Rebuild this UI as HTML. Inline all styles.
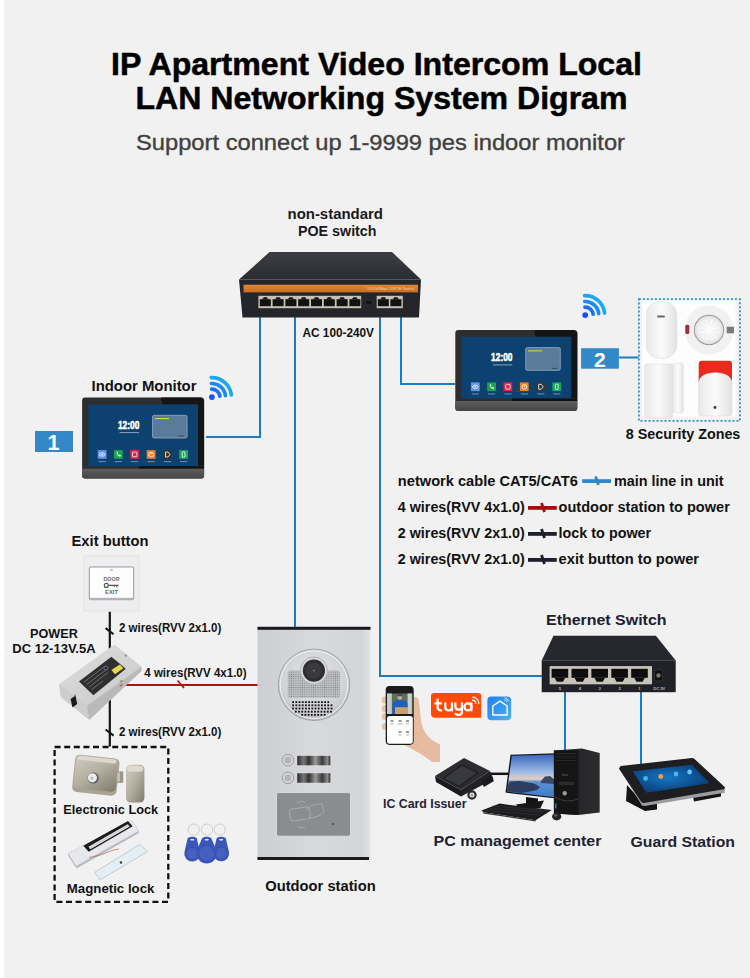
<!DOCTYPE html>
<html><head><meta charset="utf-8"><style>
html,body{margin:0;padding:0;background:#f1f1f1;width:750px;height:978px;overflow:hidden}
svg{display:block;font-family:"Liberation Sans", sans-serif}
</style></head><body>
<svg width="750" height="978" viewBox="0 0 750 978">
<rect x="0" y="0" width="750" height="978" fill="#f1f1f1"/>
<rect x="0" y="0" width="4" height="978" fill="#ffffff"/>
<text x="111" y="75.3" font-size="31.5" font-weight="bold" fill="#000" textLength="531" lengthAdjust="spacingAndGlyphs" stroke="#000" stroke-width="0.5">IP Apartment Video Intercom Local</text>
<text x="135.5" y="109.3" font-size="31.5" font-weight="bold" fill="#000" textLength="492" lengthAdjust="spacingAndGlyphs" stroke="#000" stroke-width="0.5">LAN Networking System Digram</text>
<text x="136" y="149.6" font-size="22" font-weight="normal" fill="#404040" textLength="489" lengthAdjust="spacingAndGlyphs" stroke="#404040" stroke-width="0.35">Support connect up 1-9999 pes indoor monitor</text>
<path d="M260,317 V437 H206 M295,317 V627 M380,317 V676 H542 M401,317 V384 H455 M565,692 V750 M641,692 V764 M619,357.5 H638.5" fill="none" stroke="#1d7cc1" stroke-width="2"/>
<text x="287.5" y="219.1" font-size="14.5" font-weight="bold" fill="#1a1a1a" textLength="95.5" lengthAdjust="spacingAndGlyphs" >non-standard</text>
<text x="298" y="235.9" font-size="14.5" font-weight="bold" fill="#1a1a1a" textLength="78.5" lengthAdjust="spacingAndGlyphs" >POE switch</text>
<defs><linearGradient id="swtop" x1="0" y1="0" x2="0" y2="1"><stop offset="0" stop-color="#3c3e44"/><stop offset="1" stop-color="#2a2c31"/></linearGradient><linearGradient id="orng" x1="0" y1="0" x2="0" y2="1"><stop offset="0" stop-color="#e08834"/><stop offset="1" stop-color="#c96c22"/></linearGradient></defs>
<polygon points="269.5,252 392,252 421,279.5 239,279.5" fill="url(#swtop)"/>
<polygon points="239,279.5 421,279.5 419,317.5 242.5,317.5" fill="#24262b"/>
<rect x="243.5" y="284.7" width="174.5" height="7.7" fill="url(#orng)"/>
<rect x="258.4" y="295.8" width="102.8" height="12.4" fill="#c8c2b4"/>
<rect x="259.80" y="299.2" width="11" height="7" fill="#121212"/>
<polygon points="262.30,299.3 263.80,297.2 266.80,297.2 268.30,299.3" fill="#121212"/>
<rect x="272.60" y="299.2" width="11" height="7" fill="#121212"/>
<polygon points="275.10,299.3 276.60,297.2 279.60,297.2 281.10,299.3" fill="#121212"/>
<rect x="285.40" y="299.2" width="11" height="7" fill="#121212"/>
<polygon points="287.90,299.3 289.40,297.2 292.40,297.2 293.90,299.3" fill="#121212"/>
<rect x="298.20" y="299.2" width="11" height="7" fill="#121212"/>
<polygon points="300.70,299.3 302.20,297.2 305.20,297.2 306.70,299.3" fill="#121212"/>
<rect x="311.00" y="299.2" width="11" height="7" fill="#121212"/>
<polygon points="313.50,299.3 315.00,297.2 318.00,297.2 319.50,299.3" fill="#121212"/>
<rect x="323.80" y="299.2" width="11" height="7" fill="#121212"/>
<polygon points="326.30,299.3 327.80,297.2 330.80,297.2 332.30,299.3" fill="#121212"/>
<rect x="336.60" y="299.2" width="11" height="7" fill="#121212"/>
<polygon points="339.10,299.3 340.60,297.2 343.60,297.2 345.10,299.3" fill="#121212"/>
<rect x="349.40" y="299.2" width="11" height="7" fill="#121212"/>
<polygon points="351.90,299.3 353.40,297.2 356.40,297.2 357.90,299.3" fill="#121212"/>
<rect x="376.7" y="295.8" width="26.1" height="12.4" fill="#c8c2b4"/>
<rect x="377.80" y="299.2" width="11" height="7" fill="#121212"/>
<polygon points="380.30,299.3 381.80,297.2 384.80,297.2 386.30,299.3" fill="#121212"/>
<rect x="390.40" y="299.2" width="11" height="7" fill="#121212"/>
<polygon points="392.90,299.3 394.40,297.2 397.40,297.2 398.90,299.3" fill="#121212"/>
<rect x="366.5" y="301" width="5" height="3" fill="#111"/>
<text x="367" y="290.3" font-size="3.8" fill="#f3d2a8" textLength="47" lengthAdjust="spacingAndGlyphs">10/100Mbps 10POE Switch</text>
<text x="302.5" y="336.8" font-size="13" font-weight="bold" fill="#111" textLength="71.5" lengthAdjust="spacingAndGlyphs" >AC 100-240V</text>
<defs><g id="mon"><defs><linearGradient id="bez" x1="0" y1="0" x2="0" y2="1"><stop offset="0" stop-color="#5e5e5e"/><stop offset="1" stop-color="#454545"/></linearGradient></defs><rect x="0" y="0" width="122" height="81" rx="3" fill="#2e2e2e"/><polygon points="79,0 119,0 122,3 122,68 116,68 116,6.9 80,6.9" fill="#151515"/><rect x="6.2" y="6.9" width="109.7" height="61.7" fill="#0d416f"/><polygon points="57,68.6 122,68.6 122,71.2 57,71.2" fill="#111"/><path d="M0,71.2 H122 V78 Q122,81 119,81 H3 Q0,81 0,78 Z" fill="url(#bez)"/><text x="35.8" y="31.4" font-size="10.6" font-weight="bold" fill="#fff" stroke="#fff" stroke-width="0.55" textLength="21.4" lengthAdjust="spacingAndGlyphs">12:00</text><rect x="37.5" y="34.5" width="19.5" height="1" fill="#8aa2ba"/><rect x="70.4" y="17.7" width="34.6" height="22.7" rx="1.5" fill="#5b7b9a" stroke="#90abc4" stroke-width="0.8"/><rect x="72.8" y="20.4" width="14" height="1.1" fill="#d9d34a"/><rect x="96.5" y="38" width="5.5" height="0.9" fill="#33475c"/><rect x="15.6" y="52.5" width="8.8" height="8.7" fill="#6393ea"/><ellipse cx="20.0" cy="56.9" rx="2.8" ry="1.7" fill="none" stroke="#fff" stroke-width="0.8"/><circle cx="20.0" cy="56.9" r="0.8" fill="#fff"/><rect x="16.4" y="63.6" width="7.2" height="0.9" fill="#7f98b2"/><rect x="31.9" y="52.5" width="8.8" height="8.7" fill="#18a550"/><path d="M34.5,54.6 q0.2,3.5 3.6,4.6 l0.8,-1.2 -1.3,-1 -0.7,0.6 q-1,-0.6 -1.4,-1.6 l0.6,-0.7 -0.9,-1.3 z" fill="#fff"/><rect x="32.699999999999996" y="63.6" width="7.2" height="0.9" fill="#7f98b2"/><rect x="48.2" y="52.5" width="8.8" height="8.7" fill="#e8204a"/><rect x="50.400000000000006" y="54.4" width="4.4" height="4.8" rx="0.8" fill="none" stroke="#fff" stroke-width="0.8"/><rect x="49.0" y="63.6" width="7.2" height="0.9" fill="#7f98b2"/><rect x="64.6" y="52.5" width="8.8" height="8.7" fill="#f07d28"/><circle cx="69.0" cy="56.9" r="2.4" fill="none" stroke="#fff" stroke-width="0.8"/><circle cx="69.0" cy="56.3" r="0.7" fill="#fff"/><rect x="65.39999999999999" y="63.6" width="7.2" height="0.9" fill="#7f98b2"/><rect x="81.1" y="52.5" width="8.8" height="8.7" fill="#353535"/><path d="M83.39999999999999,54.4 h2.5 l2,2.5 -2,2.5 h-2.5 z" fill="none" stroke="#fff" stroke-width="0.8"/><rect x="81.89999999999999" y="63.6" width="7.2" height="0.9" fill="#7f98b2"/><rect x="97.1" y="52.5" width="8.8" height="8.7" fill="#1aa85a"/><rect x="100.1" y="54" width="2.8" height="5.8" rx="1.4" fill="none" stroke="#fff" stroke-width="0.8"/><rect x="97.89999999999999" y="63.6" width="7.2" height="0.9" fill="#7f98b2"/></g></defs>
<use href="#mon" x="82.1" y="397.6"/>
<use href="#mon" x="455.3" y="329.9"/>
<circle cx="211.9" cy="397.1" r="2.9" fill="#1a4ff5"/>
<path d="M211.62,389.10 A8,8 0 0 1 219.86,396.26" fill="none" stroke="#1d6ef8" stroke-width="3.6" stroke-linecap="round"/>
<path d="M211.43,383.51 A13.6,13.6 0 0 1 225.43,395.68" fill="none" stroke="#1a8af5" stroke-width="3.6" stroke-linecap="round"/>
<path d="M211.22,377.61 A19.5,19.5 0 0 1 231.29,395.06" fill="none" stroke="#19a8f5" stroke-width="3.6" stroke-linecap="round"/>
<circle cx="585.2" cy="315.1" r="2.9" fill="#1a4ff5"/>
<path d="M584.92,307.10 A8,8 0 0 1 593.16,314.26" fill="none" stroke="#1d6ef8" stroke-width="3.6" stroke-linecap="round"/>
<path d="M584.73,301.51 A13.6,13.6 0 0 1 598.73,313.68" fill="none" stroke="#1a8af5" stroke-width="3.6" stroke-linecap="round"/>
<path d="M584.52,295.61 A19.5,19.5 0 0 1 604.59,313.06" fill="none" stroke="#19a8f5" stroke-width="3.6" stroke-linecap="round"/>
<rect x="35" y="431" width="38" height="21" fill="#3389c8"/>
<text x="47.5" y="450" font-size="21.5" font-weight="bold" fill="#fff" >1</text>
<rect x="581.1" y="348.2" width="37.8" height="20.5" fill="#3389c8"/>
<text x="594" y="367.1" font-size="21" font-weight="bold" fill="#fff" >2</text>
<text x="91.5" y="391.3" font-size="14.5" font-weight="bold" fill="#111" textLength="105" lengthAdjust="spacingAndGlyphs" >Indoor Monitor</text>
<rect x="642" y="300.6" width="93.6" height="117.6" fill="#fdfdfd"/>
<rect x="638.9" y="299.2" width="101" height="121.6" fill="none" stroke="#2d8fd5" stroke-width="1.8" stroke-dasharray="2,2"/>
<defs><linearGradient id="wht" x1="0" y1="0" x2="1" y2="0"><stop offset="0" stop-color="#e9e9ea"/><stop offset="0.5" stop-color="#fbfbfb"/><stop offset="1" stop-color="#e2e2e4"/></linearGradient><radialGradient id="smk" cx="0.5" cy="0.5" r="0.5"><stop offset="0" stop-color="#ffffff"/><stop offset="0.7" stop-color="#f4f4f4"/><stop offset="1" stop-color="#dedede"/></radialGradient></defs>
<rect x="646.3" y="301.8" width="30.5" height="56.4" rx="13" fill="url(#wht)" stroke="#dcdcdc" stroke-width="0.6"/>
<rect x="657" y="315.5" width="8" height="2" rx="1" fill="#666"/>
<circle cx="709" cy="330" r="24.5" fill="#f1f1f1"/>
<circle cx="709" cy="330" r="15.2" fill="#9a9a9a"/>
<circle cx="709" cy="330" r="14.2" fill="url(#smk)"/>
<g stroke="#e2e2e2" stroke-width="0.6"><path d="M709,330 L720.0,330.0"/><path d="M709,330 L718.5,335.5"/><path d="M709,330 L714.5,339.5"/><path d="M709,330 L709.0,341.0"/><path d="M709,330 L703.5,339.5"/><path d="M709,330 L699.5,335.5"/><path d="M709,330 L698.0,330.0"/><path d="M709,330 L699.5,324.5"/><path d="M709,330 L703.5,320.5"/><path d="M709,330 L709.0,319.0"/><path d="M709,330 L714.5,320.5"/><path d="M709,330 L718.5,324.5"/></g>
<circle cx="709" cy="330" r="4" fill="#fafafa"/>
<rect x="685.3" y="324.7" width="4" height="9.3" rx="1.5" fill="#a0303a"/>
<rect x="726.7" y="326.7" width="7.3" height="6.6" fill="#7a7a7a"/>
<rect x="644.7" y="364" width="28" height="54" rx="2" fill="url(#wht)" stroke="#dedede" stroke-width="0.6"/>
<rect x="672.7" y="363.3" width="10.6" height="49.4" rx="2" fill="url(#wht)" stroke="#dedede" stroke-width="0.6"/>
<path d="M698.7,382 V364 Q698.7,360.7 702,360.7 H728.7 Q732,360.7 732,364 V382 Q730,373 715.3,372.7 Q700.5,373 698.7,382 Z" fill="#ea2a1c"/>
<path d="M698.7,382 Q699.5,376.5 704,375.5 L726.5,375.5 Q731,376.5 732,382 L732,380 Q730,373 715.3,372.7 Q700.5,373 698.7,380 Z" fill="#b0202a"/>
<path d="M698.7,382 Q700.5,373 715.3,372.7 Q730,373 732,382 V413 Q732,416 729,416 H701.7 Q698.7,416 698.7,413 Z" fill="url(#wht)" stroke="#dadada" stroke-width="0.6"/>
<circle cx="715" cy="407.5" r="1.4" fill="#333"/>
<text x="625.8" y="439" font-size="14.5" font-weight="bold" fill="#111" textLength="114.5" lengthAdjust="spacingAndGlyphs" >8 Security Zones</text>
<text x="397.8" y="486" font-size="14.5" font-weight="bold" fill="#111" textLength="180" lengthAdjust="spacingAndGlyphs" >network cable CAT5/CAT6</text>
<text x="614" y="486" font-size="14.5" font-weight="bold" fill="#111" textLength="109.5" lengthAdjust="spacingAndGlyphs" >main line in unit</text>
<text x="397.8" y="512" font-size="14.5" font-weight="bold" fill="#111" textLength="127" lengthAdjust="spacingAndGlyphs" >4 wires(RVV 4x1.0)</text>
<text x="558.6" y="512" font-size="14.5" font-weight="bold" fill="#111" textLength="171.2" lengthAdjust="spacingAndGlyphs" >outdoor station to power</text>
<rect x="528" y="506" width="28.8" height="3.8" fill="#a80c10"/>
<path d="M541.5,503 L544.5,512" stroke="#a80c10" stroke-width="2.8"/>
<text x="397.8" y="538" font-size="14.5" font-weight="bold" fill="#111" textLength="127" lengthAdjust="spacingAndGlyphs" >2 wires(RVV 2x1.0)</text>
<text x="558.6" y="538" font-size="14.5" font-weight="bold" fill="#111" textLength="92.6" lengthAdjust="spacingAndGlyphs" >lock to power</text>
<rect x="528" y="532" width="28.8" height="3.8" fill="#1e1f2c"/>
<path d="M541.5,529 L544.5,538" stroke="#1e1f2c" stroke-width="2.8"/>
<text x="397.8" y="564" font-size="14.5" font-weight="bold" fill="#111" textLength="127" lengthAdjust="spacingAndGlyphs" >2 wires(RVV 2x1.0)</text>
<text x="558.6" y="564" font-size="14.5" font-weight="bold" fill="#111" textLength="140.5" lengthAdjust="spacingAndGlyphs" >exit button to power</text>
<rect x="528" y="558" width="28.8" height="3.8" fill="#1e1f2c"/>
<path d="M541.5,555 L544.5,564" stroke="#1e1f2c" stroke-width="2.8"/>
<rect x="582.2" y="479.2" width="28.8" height="3.8" fill="#2f88ca"/>
<path d="M595.5,476.5 L598.5,485" stroke="#2f88ca" stroke-width="2.8"/>
<text x="71.5" y="545.9" font-size="14" font-weight="bold" fill="#111" textLength="77" lengthAdjust="spacingAndGlyphs" >Exit button</text>
<rect x="83.3" y="555.2" width="56.6" height="56.6" fill="#e8e8eb"/>
<rect x="85" y="557" width="53" height="53" fill="#eeeef0"/>
<rect x="89.3" y="567" width="44.4" height="32.7" rx="1" fill="#fdfdfd" stroke="#8c8c90" stroke-width="0.9"/>
<rect x="89.8" y="597.8" width="43.5" height="1.8" fill="#b5b5b8"/>
<rect x="109.8" y="569.5" width="3" height="0.9" fill="#4aa36a"/>
<text x="111.5" y="580.6" font-size="5" font-weight="bold" fill="#6a6a6a" text-anchor="middle" textLength="16" lengthAdjust="spacingAndGlyphs">DOOR</text>
<circle cx="106.3" cy="585.4" r="2" fill="none" stroke="#555" stroke-width="1.1"/>
<path d="M108.3,585.4 H118.5 M116.8,585.4 V587.5 M114.2,585.4 V587" stroke="#555" stroke-width="1.1" fill="none"/>
<text x="111.5" y="594.2" font-size="5" font-weight="bold" fill="#6a6a6a" text-anchor="middle" textLength="13" lengthAdjust="spacingAndGlyphs">EXIT</text>
<path d="M109.8,611.8 V746.5" stroke="#141414" stroke-width="2.2"/>
<path d="M105.6,628.1 L113.6,634.2 M105.6,729.5 L113.6,735.6" stroke="#141414" stroke-width="2"/>
<text x="119" y="631.6" font-size="12" font-weight="bold" fill="#111" textLength="102.3" lengthAdjust="spacingAndGlyphs" >2 wires(RVV 2x1.0)</text>
<text x="119" y="736.2" font-size="12" font-weight="bold" fill="#111" textLength="102.3" lengthAdjust="spacingAndGlyphs" >2 wires(RVV 2x1.0)</text>
<text x="30" y="637.8" font-size="13" font-weight="bold" fill="#111" textLength="47.8" lengthAdjust="spacingAndGlyphs" >POWER</text>
<text x="12.3" y="652.9" font-size="13.5" font-weight="bold" fill="#111" textLength="83.3" lengthAdjust="spacingAndGlyphs" >DC 12-13V.5A</text>
<path d="M122,685 H258" stroke="#b01010" stroke-width="2"/>
<path d="M177.5,680.5 L184,688" stroke="#b01010" stroke-width="1.6"/>
<text x="144.3" y="677.2" font-size="12" font-weight="bold" fill="#111" textLength="102.3" lengthAdjust="spacingAndGlyphs" >4 wires(RVV 4x1.0)</text>
<defs><linearGradient id="psu" x1="0" y1="0" x2="1" y2="1"><stop offset="0" stop-color="#dedede"/><stop offset="1" stop-color="#c9c9c9"/></linearGradient></defs>
<polygon points="59.2,684.4 114.4,644.8 141.4,667 141.4,671 89.2,719.8 61,697" fill="#c4c4c4"/>
<polygon points="59.2,684.4 114.4,644.8 141.4,667 87,706" fill="url(#psu)"/>
<polygon points="87,706 141.4,667 141.4,671 89.2,719.8" fill="#b9b9b9"/>
<polygon points="59.2,684.4 87,706 89.2,719.8 61,697" fill="#cdcdcd"/>
<polygon points="79,681.4 111.4,656.8 125.8,668.8 93.4,695.2" fill="#2f2f2f"/>
<g stroke="#8a8a8a" stroke-width="0.7"><path d="M84,682 L104,667 M86.5,684.5 L106,670 M89,687 L108,672.5 M91.5,689.5 L103,681"/></g>
<polygon points="111.4,670 119.8,664.6 123.4,668.2 115,674.2" fill="#e6d84c"/>
<circle cx="106" cy="668" r="2" fill="none" stroke="#7b7fb0" stroke-width="0.7"/>
<polygon points="70.6,699 75.5,695.5 77.2,704 72.5,707.5" fill="#1a1a1a"/>
<circle cx="125.8" cy="655.5" r="1.3" fill="#999"/>
<circle cx="75.2" cy="695.5" r="0.9" fill="#777"/>
<rect x="119.5" y="680.5" width="3" height="1.5" fill="#5aa86a" transform="rotate(-36 121 681)"/>
<rect x="119.5" y="684.5" width="3" height="1.5" fill="#d05a4a" transform="rotate(-36 121 685)"/>
<rect x="54.6" y="747" width="113.7" height="154.8" fill="none" stroke="#111" stroke-width="2.3" stroke-dasharray="6,3.6"/>
<defs><linearGradient id="steel" x1="0" y1="0" x2="1" y2="1"><stop offset="0" stop-color="#d2cdc2"/><stop offset="0.5" stop-color="#b3ad9f"/><stop offset="1" stop-color="#7e796d"/></linearGradient><linearGradient id="alu" x1="0" y1="0" x2="0" y2="1"><stop offset="0" stop-color="#f4f4f6"/><stop offset="1" stop-color="#c9cbd0"/></linearGradient></defs>
<g transform="rotate(6 96 775)"><rect x="73.6" y="756.5" width="44.6" height="37.5" rx="5" fill="#a9a396"/><rect x="74.5" y="757.2" width="42.5" height="33" rx="4.5" fill="url(#steel)"/><rect x="76" y="757.6" width="39" height="4" rx="2" fill="#ddd8cc"/></g>
<rect x="115.4" y="771.4" width="7.8" height="11.4" fill="#9b968a"/>
<rect x="117" y="772.5" width="3" height="9" fill="#c3beb2"/>
<circle cx="93.2" cy="778" r="5.6" fill="#5a5a5a"/>
<circle cx="92.4" cy="777.8" r="4.6" fill="#ececee"/>
<circle cx="91.8" cy="778.2" r="1.6" fill="#bfbfc3"/>
<rect x="126" y="764.8" width="18.4" height="37.8" rx="4.5" fill="url(#steel)"/>
<rect x="127.2" y="765.8" width="16" height="6" rx="3" fill="#dedad0"/>
<text x="63.3" y="813.7" font-size="13" font-weight="bold" fill="#111" textLength="94.9" lengthAdjust="spacingAndGlyphs" >Electronic Lock</text>
<polygon points="68,853.7 132,820.3 138.7,831 76,866.3" fill="#e6e8ec" stroke="#c2c4c8" stroke-width="0.6"/>
<polygon points="68,853.7 76,866.3 76.5,868.5 68.5,856" fill="#a9abb0"/>
<polygon points="76,866.3 138.7,831 139,833 76.5,868.5" fill="#b9bbc0"/>
<polygon points="83.3,845.7 128,821 132.7,826.3 88.7,851.7" fill="#1d1d1d"/>
<polygon points="88.5,846.8 127.8,824.2 129.6,826.6 90.3,849.3" fill="#e9e9ea"/>
<path d="M89.4,848 L128.7,825.4" stroke="#9a9a9c" stroke-width="0.5"/>
<path d="M89,857.5 Q100,856 108,852 Q114,849.5 119,849" fill="none" stroke="#b24a3a" stroke-width="0.6"/>
<polygon points="94.7,872.3 140,844.3 147.3,851.7 100,880" fill="#e4eef3" stroke="#aebdc7" stroke-width="0.7"/>
<circle cx="121" cy="862.5" r="1.3" fill="#444"/>
<text x="66.8" y="892.8" font-size="13" font-weight="bold" fill="#111" textLength="87.6" lengthAdjust="spacingAndGlyphs" >Magnetic lock</text>
<circle cx="193.8" cy="829.6" r="5.6" fill="none" stroke="#b5b5b8" stroke-width="0.6"/>
<circle cx="207" cy="829.6" r="5.6" fill="none" stroke="#b5b5b8" stroke-width="0.6"/>
<circle cx="219.8" cy="829.6" r="5.6" fill="none" stroke="#b5b5b8" stroke-width="0.6"/>
<path d="M187.7,838.1 Q192.2,835.4 196.7,838.1 L199.863,851.625 A7.9,7.9 0 1 1 184.53699999999998,851.625 Z" fill="#3a56b8"/>
<circle cx="192.2" cy="853.6" r="6.162000000000001" fill="#4561c0" stroke="#304aa8" stroke-width="0.6"/>
<rect x="190.2" y="838.9" width="4" height="1.6" rx="0.8" fill="#e2e8f8"/>
<path d="M216.7,838.1 Q221.2,835.4 225.7,838.1 L228.863,851.425 A7.9,7.9 0 1 1 213.53699999999998,851.425 Z" fill="#3a56b8"/>
<circle cx="221.2" cy="853.4" r="6.162000000000001" fill="#4561c0" stroke="#304aa8" stroke-width="0.6"/>
<rect x="219.2" y="838.9" width="4" height="1.6" rx="0.8" fill="#e2e8f8"/>
<path d="M202.2,838.1 Q206.7,835.4 211.2,838.1 L216.594,850.85 A10.2,10.2 0 1 1 196.80599999999998,850.85 Z" fill="#3a56b8"/>
<circle cx="206.7" cy="853.4" r="7.9559999999999995" fill="#4561c0" stroke="#304aa8" stroke-width="0.6"/>
<rect x="204.7" y="838.9" width="4" height="1.6" rx="0.8" fill="#e2e8f8"/>
<defs><linearGradient id="panel" x1="0" y1="0" x2="1" y2="0"><stop offset="0" stop-color="#cdced2"/><stop offset="0.5" stop-color="#d8d9dc"/><stop offset="0.92" stop-color="#d4d5d9"/><stop offset="1" stop-color="#e2e3e6"/></linearGradient><radialGradient id="ring" cx="0.5" cy="0.4" r="0.6"><stop offset="0" stop-color="#e6e7ea"/><stop offset="0.8" stop-color="#cfd0d3"/><stop offset="1" stop-color="#b9babe"/></radialGradient><pattern id="grill" width="2.2" height="2.2" patternUnits="userSpaceOnUse"><rect width="2.2" height="2.2" fill="#c8c9cc"/><rect x="0.5" y="0.5" width="1.2" height="1.2" fill="#7d7e82"/></pattern></defs>
<rect x="257.5" y="626.8" width="113" height="233.2" fill="url(#panel)"/>
<rect x="257.5" y="626.8" width="113" height="3" fill="#1b1b1e"/>
<rect x="257.5" y="857" width="111.5" height="3" fill="#1b1b1e"/>
<circle cx="314" cy="684.8" r="35.7" fill="url(#ring)" stroke="#9d9ea2" stroke-width="0.9"/>
<circle cx="314" cy="684.8" r="33.8" fill="none" stroke="#f2f2f4" stroke-width="1"/>
<rect x="287.8" y="670.6" width="52.2" height="27.2" rx="2.5" fill="url(#grill)"/>
<circle cx="313.9" cy="670.6" r="13.6" fill="#d8d9dc" stroke="#a3a4a8" stroke-width="0.7"/>
<circle cx="313.9" cy="670.6" r="11.1" fill="#2e2e31"/>
<circle cx="313.9" cy="670.6" r="8" fill="#3a3a3e"/>
<circle cx="313.9" cy="670.6" r="0.9" fill="#888"/>
<rect x="292.2" y="701.2" width="1.8" height="1.8" fill="#151517"/><rect x="295.4" y="701.2" width="1.8" height="1.8" fill="#151517"/><rect x="298.6" y="701.2" width="1.8" height="1.8" fill="#151517"/><rect x="301.8" y="701.2" width="1.8" height="1.8" fill="#151517"/><rect x="305.0" y="701.2" width="1.8" height="1.8" fill="#151517"/><rect x="308.2" y="701.2" width="1.8" height="1.8" fill="#151517"/><rect x="311.4" y="701.2" width="1.8" height="1.8" fill="#151517"/><rect x="314.6" y="701.2" width="1.8" height="1.8" fill="#151517"/><rect x="317.8" y="701.2" width="1.8" height="1.8" fill="#151517"/><rect x="321.0" y="701.2" width="1.8" height="1.8" fill="#151517"/><rect x="324.2" y="701.2" width="1.8" height="1.8" fill="#151517"/><rect x="327.4" y="701.2" width="1.8" height="1.8" fill="#151517"/><rect x="292.2" y="704.4" width="1.8" height="1.8" fill="#151517"/><rect x="295.4" y="704.4" width="1.8" height="1.8" fill="#151517"/><rect x="298.6" y="704.4" width="1.8" height="1.8" fill="#151517"/><rect x="301.8" y="704.4" width="1.8" height="1.8" fill="#151517"/><rect x="305.0" y="704.4" width="1.8" height="1.8" fill="#151517"/><rect x="308.2" y="704.4" width="1.8" height="1.8" fill="#151517"/><rect x="311.4" y="704.4" width="1.8" height="1.8" fill="#151517"/><rect x="314.6" y="704.4" width="1.8" height="1.8" fill="#151517"/><rect x="317.8" y="704.4" width="1.8" height="1.8" fill="#151517"/><rect x="321.0" y="704.4" width="1.8" height="1.8" fill="#151517"/><rect x="324.2" y="704.4" width="1.8" height="1.8" fill="#151517"/><rect x="327.4" y="704.4" width="1.8" height="1.8" fill="#151517"/><rect x="330.6" y="704.4" width="1.8" height="1.8" fill="#151517"/><rect x="292.2" y="707.6" width="1.8" height="1.8" fill="#151517"/><rect x="295.4" y="707.6" width="1.8" height="1.8" fill="#151517"/><rect x="298.6" y="707.6" width="1.8" height="1.8" fill="#151517"/><rect x="301.8" y="707.6" width="1.8" height="1.8" fill="#151517"/><rect x="305.0" y="707.6" width="1.8" height="1.8" fill="#151517"/><rect x="308.2" y="707.6" width="1.8" height="1.8" fill="#151517"/><rect x="311.4" y="707.6" width="1.8" height="1.8" fill="#151517"/><rect x="314.6" y="707.6" width="1.8" height="1.8" fill="#151517"/><rect x="317.8" y="707.6" width="1.8" height="1.8" fill="#151517"/><rect x="321.0" y="707.6" width="1.8" height="1.8" fill="#151517"/><rect x="324.2" y="707.6" width="1.8" height="1.8" fill="#151517"/><rect x="327.4" y="707.6" width="1.8" height="1.8" fill="#151517"/><rect x="330.6" y="707.6" width="1.8" height="1.8" fill="#151517"/><rect x="294.9" y="710.8" width="1.8" height="1.8" fill="#151517"/><rect x="298.1" y="710.8" width="1.8" height="1.8" fill="#151517"/><rect x="301.3" y="710.8" width="1.8" height="1.8" fill="#151517"/><rect x="304.5" y="710.8" width="1.8" height="1.8" fill="#151517"/><rect x="307.7" y="710.8" width="1.8" height="1.8" fill="#151517"/><rect x="310.9" y="710.8" width="1.8" height="1.8" fill="#151517"/><rect x="314.1" y="710.8" width="1.8" height="1.8" fill="#151517"/><rect x="317.3" y="710.8" width="1.8" height="1.8" fill="#151517"/><rect x="320.5" y="710.8" width="1.8" height="1.8" fill="#151517"/><rect x="323.7" y="710.8" width="1.8" height="1.8" fill="#151517"/><rect x="326.9" y="710.8" width="1.8" height="1.8" fill="#151517"/><rect x="330.1" y="710.8" width="1.8" height="1.8" fill="#151517"/><rect x="301.3" y="714.0" width="1.8" height="1.8" fill="#151517"/><rect x="304.5" y="714.0" width="1.8" height="1.8" fill="#151517"/><rect x="307.7" y="714.0" width="1.8" height="1.8" fill="#151517"/><rect x="310.9" y="714.0" width="1.8" height="1.8" fill="#151517"/><rect x="314.1" y="714.0" width="1.8" height="1.8" fill="#151517"/><rect x="317.3" y="714.0" width="1.8" height="1.8" fill="#151517"/><rect x="320.5" y="714.0" width="1.8" height="1.8" fill="#151517"/><rect x="323.7" y="714.0" width="1.8" height="1.8" fill="#151517"/>
<circle cx="287.9" cy="760.2" r="5.8" fill="#d9dadd" stroke="#8c8d91" stroke-width="0.8"/>
<circle cx="287.9" cy="760.2" r="3.6" fill="#b5b6ba"/>
<circle cx="287.9" cy="777.8" r="5.8" fill="#d9dadd" stroke="#8c8d91" stroke-width="0.8"/>
<circle cx="287.9" cy="777.8" r="3.6" fill="#b5b6ba"/>
<defs><linearGradient id="plate" x1="0" y1="0" x2="1" y2="0"><stop offset="0" stop-color="#2a2a2a"/><stop offset="0.2" stop-color="#777"/><stop offset="0.35" stop-color="#333"/><stop offset="0.55" stop-color="#999"/><stop offset="0.75" stop-color="#3a3a3a"/><stop offset="0.9" stop-color="#8a8a8a"/><stop offset="1" stop-color="#222"/></linearGradient></defs>
<rect x="296.9" y="755.4" width="33.9" height="10.4" fill="url(#plate)" stroke="#eee" stroke-width="0.6"/>
<rect x="296.9" y="772.9" width="33.9" height="10.2" fill="url(#plate)" stroke="#eee" stroke-width="0.6"/>
<rect x="276.5" y="792.6" width="74" height="43.6" rx="2" fill="#8b8c90" stroke="#e2e3e6" stroke-width="0.8"/>
<g fill="none" stroke="#b5b6ba" stroke-width="0.7"><rect x="290" y="808" width="20" height="12" rx="2.5" transform="rotate(-8 300 814)"/><path d="M306,810 Q312,803 322,804 L324,812 Q318,818 309,818"/><path d="M297,803 Q301,800 305,802 M297,826 Q301,829 305,827"/></g>
<circle cx="333" cy="824" r="0.8" fill="#111"/>
<text x="265.2" y="891" font-size="14.2" font-weight="bold" fill="#111" textLength="110.5" lengthAdjust="spacingAndGlyphs" >Outdoor station</text>
<text x="546" y="625" font-size="15" font-weight="bold" fill="#1c2030" textLength="120.5" lengthAdjust="spacingAndGlyphs" >Ethernet Switch</text>
<polygon points="553.5,635.8 655.9,635.8 675.7,660.4 541.7,660.4" fill="#26282d"/>
<rect x="541.7" y="660.4" width="134" height="31.8" fill="#1f2126"/>
<rect x="549.6" y="666.1" width="102.4" height="18.2" fill="#c8c4ba"/>
<rect x="551.6" y="668.8" width="16.6" height="9" fill="#0e0e0e"/>
<polygon points="554.6,677.8 565.2,677.8 563.0,681.8 556.8,681.8" fill="#0e0e0e"/>
<text x="559.9" y="689.6" font-size="4.2" font-weight="bold" fill="#bbb" text-anchor="middle">5</text>
<rect x="571.5" y="668.8" width="16.6" height="9" fill="#0e0e0e"/>
<polygon points="574.5,677.8 585.1,677.8 582.9,681.8 576.7,681.8" fill="#0e0e0e"/>
<text x="579.8" y="689.6" font-size="4.2" font-weight="bold" fill="#bbb" text-anchor="middle">4</text>
<rect x="591.4" y="668.8" width="16.6" height="9" fill="#0e0e0e"/>
<polygon points="594.4,677.8 605.0,677.8 602.8,681.8 596.6,681.8" fill="#0e0e0e"/>
<text x="599.7" y="689.6" font-size="4.2" font-weight="bold" fill="#bbb" text-anchor="middle">3</text>
<rect x="611.3" y="668.8" width="16.6" height="9" fill="#0e0e0e"/>
<polygon points="614.3,677.8 624.9,677.8 622.7,681.8 616.5,681.8" fill="#0e0e0e"/>
<text x="619.6" y="689.6" font-size="4.2" font-weight="bold" fill="#bbb" text-anchor="middle">2</text>
<rect x="631.2" y="668.8" width="16.6" height="9" fill="#0e0e0e"/>
<polygon points="634.2,677.8 644.8,677.8 642.6,681.8 636.4,681.8" fill="#0e0e0e"/>
<text x="639.5" y="689.6" font-size="4.2" font-weight="bold" fill="#bbb" text-anchor="middle">1</text>
<rect x="654.5" y="670" width="8" height="11" rx="1" fill="#111" stroke="#444" stroke-width="0.6"/>
<circle cx="658.5" cy="675.5" r="2.2" fill="#777"/>
<text x="653.5" y="689.5" font-size="4" font-weight="bold" fill="#bbb">DC 5V</text>
<path d="M412,699 Q416.5,694.5 418.8,700.5 L421,720 Q423,737 440,744.5 L440,762 L432,762 Q421,753 404,745 L412,745 Z" fill="#e6bb9f"/>
<ellipse cx="384.8" cy="700" rx="3" ry="3.6" fill="#e8c0a6"/>
<ellipse cx="384.8" cy="708.5" rx="3" ry="3.6" fill="#e8c0a6"/>
<ellipse cx="384.8" cy="716.5" rx="3" ry="3.6" fill="#e8c0a6"/>
<ellipse cx="384.8" cy="726.5" rx="3" ry="3.6" fill="#e8c0a6"/>
<rect x="385.7" y="686.1" width="28" height="58.8" rx="3.8" fill="#1b1b1b"/>
<rect x="387" y="693.5" width="25.8" height="20.5" fill="#5b7352"/>
<rect x="387" y="693.5" width="4.8" height="20.5" fill="#c9c9c9"/>
<rect x="407.6" y="693.5" width="4.2" height="20.5" fill="#cfcfcf"/>
<path d="M392.5,714 V704 Q393,700 400,699.5 Q407,700 407.5,704 V714 Z" fill="#1d60b8"/>
<circle cx="399.8" cy="697.5" r="2.4" fill="#d8a47e"/>
<rect x="397" y="694.3" width="5.5" height="2" rx="1" fill="#1a55a8"/>
<rect x="395" y="707.2" width="13" height="6.8" fill="#caa06e"/>
<rect x="387" y="716" width="25.8" height="27.7" rx="2.5" fill="#ffffff"/>
<g fill="#9a9a9a"><rect x="390.5" y="720" width="3" height="2"/><rect x="398.6" y="720" width="3" height="2"/><rect x="406" y="720" width="3" height="2"/><rect x="390.5" y="723.5" width="3" height="0.8"/><rect x="397.6" y="723.5" width="5" height="0.8"/><rect x="406" y="723.5" width="3" height="0.8"/><rect x="398.6" y="731" width="3" height="2"/><rect x="406" y="731" width="3" height="2"/><rect x="398.6" y="734.5" width="3" height="0.8"/><rect x="406" y="734.5" width="3" height="0.8"/></g>
<path d="M434,693 H478.2 Q481.2,693 481.2,696 V717.8 H435 Q431,717.8 431,713.8 V696 Q431,693 434,693 Z" fill="#ff4a0c"/>
<g fill="none" stroke="#fff" stroke-width="2.2" stroke-linecap="round" stroke-linejoin="round"><path d="M437.6,699.6 V707.3 Q437.6,710.5 441.3,710.5 M435.4,703.4 H441"/><path d="M445.3,703.3 V707 Q445.3,710.5 448.7,710.5 Q452,710.5 452,707 V703.3 V710.5"/><path d="M455.4,703.3 V706.6 Q455.4,709.7 458.7,709.7 Q462,709.7 462,706.6 V703.3 V711.8 Q462,715 458.7,715 Q456.6,715 455.6,713.8"/><circle cx="467.9" cy="706.9" r="3.5"/><path d="M471.4,703.4 V710.5"/></g>
<path d="M472.5,700.2 A3.5,3.5 0 0 1 475.8,703.5 M472.8,697.2 A6.3,6.3 0 0 1 478.8,703.3" fill="none" stroke="#fff" stroke-width="1.2" stroke-linecap="round"/>
<defs><linearGradient id="shome" x1="0" y1="0" x2="1" y2="1"><stop offset="0" stop-color="#1f7ef0"/><stop offset="1" stop-color="#4cb3ef"/></linearGradient></defs>
<rect x="487.4" y="696.4" width="23.8" height="23.8" rx="4" fill="url(#shome)"/>
<path d="M492.8,706 L500,701.2 L507.2,706 V715 H492.8 Z" fill="none" stroke="#fff" stroke-width="1.4" stroke-linejoin="round"/>
<path d="M504.5,699.8 A2.5,2.5 0 0 1 506.6,701.6 M505,697.8 A4.5,4.5 0 0 1 508.4,701" fill="none" stroke="#fff" stroke-width="0.8" stroke-linecap="round"/>
<path d="M488,773.8 H509" stroke="#141414" stroke-width="2.5"/>
<polygon points="435,776 464,758 490,771 461,790" fill="#2c2c31"/>
<polygon points="435,776 461,790 461,796.5 436,782" fill="#1a1a1e"/>
<polygon points="461,790 490,771 493.5,779 461,796.5" fill="#202025"/>
<polygon points="443.6,778.5 461.7,765 477.6,772.7 459.5,786.5" fill="#38383f" stroke="#1e1e22" stroke-width="1.2"/>
<polygon points="481,782 491,776 494,781 484,787" fill="#1a1a1e"/>
<circle cx="472" cy="795" r="3.6" fill="none" stroke="#2a2a2e" stroke-width="2.2"/>
<circle cx="472" cy="795" r="1.5" fill="#9a9a9e"/>
<text x="383" y="807.7" font-size="13" font-weight="bold" fill="#1e2333" textLength="83.5" lengthAdjust="spacingAndGlyphs" >IC Card Issuer</text>
<defs><linearGradient id="sky" x1="0" y1="0" x2="0" y2="1"><stop offset="0" stop-color="#3a66bc"/><stop offset="0.42" stop-color="#9fbde6"/><stop offset="0.58" stop-color="#e6cdbd"/><stop offset="0.64" stop-color="#5a90d4"/><stop offset="1" stop-color="#3f7dc8"/></linearGradient><linearGradient id="tside" x1="0" y1="0" x2="1" y2="0"><stop offset="0" stop-color="#202022"/><stop offset="1" stop-color="#2c2c2f"/></linearGradient></defs>
<polygon points="510.5,754.8 556,753.2 556,798.5 505.5,792.6" fill="#141414"/>
<polygon points="511.8,755.8 555,754.4 555,797.2 507,791.6" fill="url(#sky)"/>
<polygon points="507.5,786 510,781.5 520,781 534,783.5 540,787 537,790 522,793 507.2,791.5" fill="#2c3d5e"/>
<polygon points="541,781 545,776.5 550,776 555,780 555,784 541,783" fill="#3a4a66"/>
<polygon points="526,797 538,798.6 538,803.5 526,803.5" fill="#141414"/>
<polygon points="515.8,804.6 544,800.4 540.4,808.2 520,808.5" fill="#161616"/>
<polygon points="481.6,810.6 499.6,803.6 551.8,810 535.6,820.2 483.4,812.2" fill="#1c1c1e"/>
<polygon points="483.4,812.2 535.6,820.2 535.8,821.6 483,813.4" fill="#3a3a3e"/>
<g stroke="#404044" stroke-width="0.5"><path d="M490,808.5 L544,812 M487,810.5 L540,815 M492,806 L548,810.8"/></g>
<polygon points="553.9,750.6 582,748.6 599.7,753 599.7,812.5 578.4,815 553.9,813.6" fill="url(#tside)"/>
<polygon points="553.9,750.6 578.4,750.6 578.4,815 553.9,813.6" fill="#151516"/>
<g fill="none" stroke="#333336" stroke-width="0.7"><path d="M556,753.5 H576 M556,757 H576 M556,760.5 H576"/></g>
<rect x="559" y="782" width="15" height="2.8" rx="0.5" fill="#2b2b2e" stroke="#3a3a3e" stroke-width="0.4"/>
<rect x="562" y="774.5" width="6" height="1" fill="#555"/>
<circle cx="564.7" cy="793.3" r="2.2" fill="#9a9a9e"/>
<path d="M555,797 Q566,804 578,799" fill="none" stroke="#3d3d40" stroke-width="1"/>
<rect x="555" y="803.5" width="1.5" height="5" fill="#3f6fc0"/>
<ellipse cx="556.7" cy="816.6" rx="4.6" ry="3.9" fill="#232326"/>
<ellipse cx="555.6" cy="815.5" rx="1.8" ry="1.2" fill="#5a5a60"/>
<text x="433.5" y="846.1" font-size="14.5" font-weight="bold" fill="#1e2333" textLength="168" lengthAdjust="spacingAndGlyphs" >PC managemet center</text>
<defs><radialGradient id="gscr" cx="0.45" cy="0.45" r="0.7"><stop offset="0" stop-color="#1877c0"/><stop offset="0.6" stop-color="#0d4d8e"/><stop offset="1" stop-color="#093667"/></radialGradient></defs>
<polygon points="627,785 643,803 657,801 657,809.5 645,811 626,801" fill="#141414"/>
<polygon points="693,797 721,792 721,796.5 694,801.5" fill="#141414"/>
<polygon points="619.2,768.5 642,805.5 644.5,806 724.8,792.8 724.8,787.5" fill="#9c9ca0"/>
<polygon points="621,766.8 692,758.7 694,759.5 724.2,787.5 723.5,788.6 644,802.2 642,801.6 619.8,768.5" fill="#1e1e20" stroke="#1e1e20" stroke-width="1.5" stroke-linejoin="round"/>
<polygon points="632.8,771.2 692,764.8 709.6,783.2 646.4,792.8" fill="url(#gscr)"/>
<circle cx="645.6" cy="778.4" r="2.4" fill="#44b8ec"/><circle cx="660.8" cy="776.5" r="2.4" fill="#eea24a"/><circle cx="676" cy="774" r="2.4" fill="#44b8ec"/><circle cx="689.6" cy="772" r="2.4" fill="#62c8f2"/>
<text x="630.5" y="847" font-size="15" font-weight="bold" fill="#1e2333" textLength="104.5" lengthAdjust="spacingAndGlyphs" >Guard Station</text>
</svg>
</body></html>
